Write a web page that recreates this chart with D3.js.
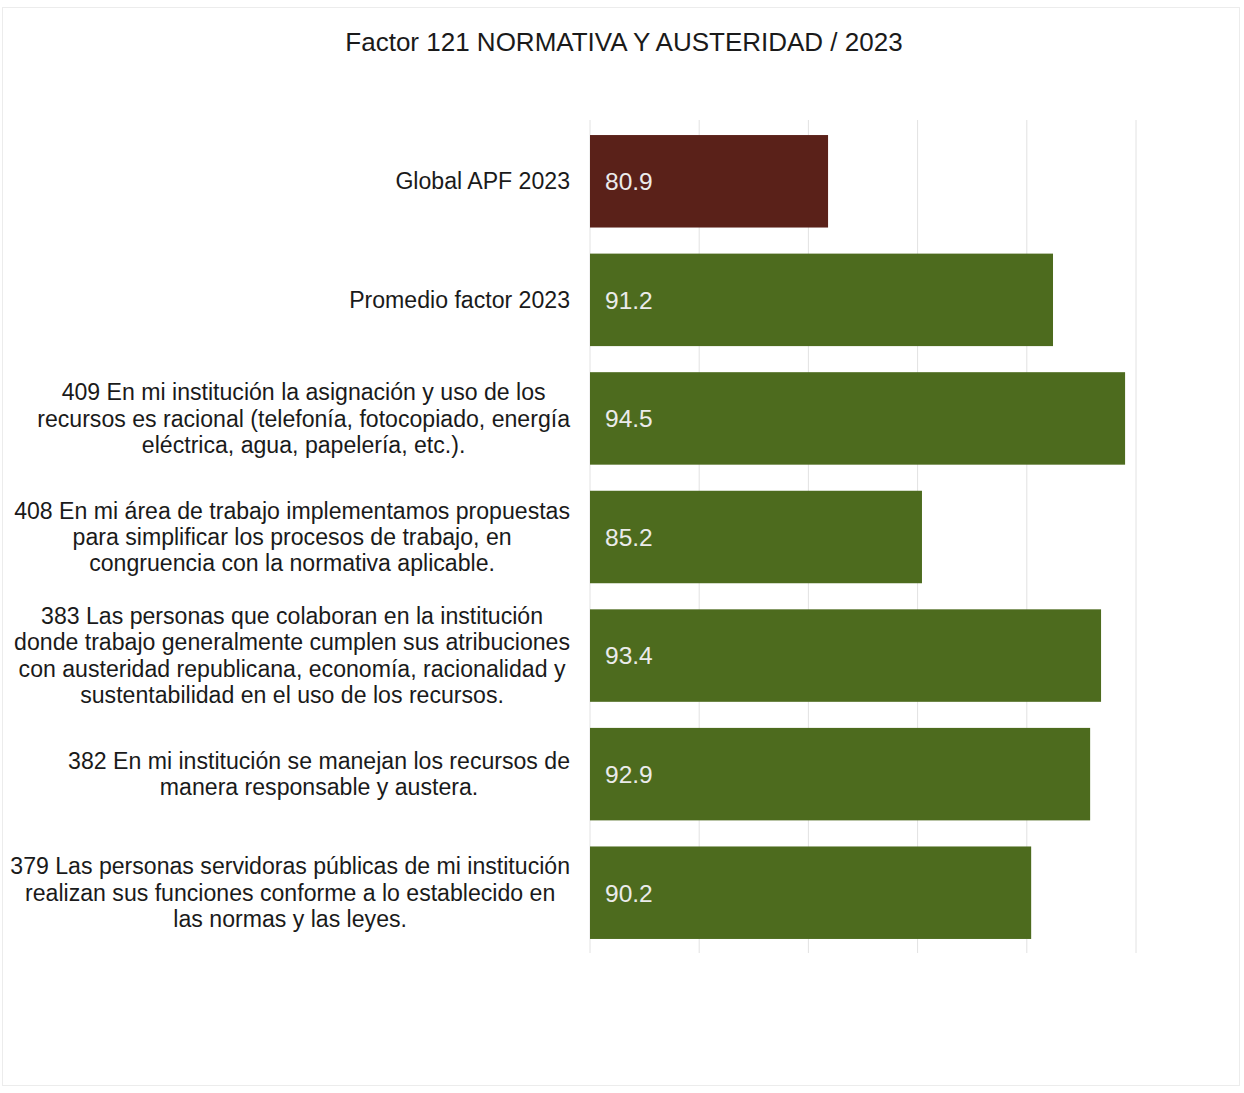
<!DOCTYPE html>
<html lang="es">
<head>
<meta charset="utf-8">
<script src="https://cdn.jsdelivr.net/npm/d3@7"></script>
<style>
  html, body { margin: 0; padding: 0; background: #fff; }
  svg { display: block; }
  text { font-family: "Liberation Sans", Arial, sans-serif; }
</style>
</head>
<body>
<svg id="chart" width="1244" height="1093"></svg>
<script>
// Category labels (pre-wrapped lines), top to bottom
const categories = [
  ["Global APF 2023"],
  ["Promedio factor 2023"],
  ["409 En mi institución la asignación y uso de los",
   "recursos es racional (telefonía, fotocopiado, energía",
   "eléctrica, agua, papelería, etc.)."],
  ["408 En mi área de trabajo implementamos propuestas",
   "para simplificar los procesos de trabajo, en",
   "congruencia con la normativa aplicable."],
  ["383 Las personas que colaboran en la institución",
   "donde trabajo generalmente cumplen sus atribuciones",
   "con austeridad republicana, economía, racionalidad y",
   "sustentabilidad en el uso de los recursos."],
  ["382 En mi institución se manejan los recursos de",
   "manera responsable y austera."],
  ["379 Las personas servidoras públicas de mi institución",
   "realizan sus funciones conforme a lo establecido en",
   "las normas y las leyes."]
];
const values = [80.9, 91.2, 94.5, 85.2, 93.4, 92.9, 90.2];
const gridTicks = [70, 75, 80, 85, 90, 95];
const title = "Factor 121 NORMATIVA Y AUSTERIDAD / 2023";

const svg = d3.select("#chart");

// faint frame around the chart area
svg.append("rect")
  .attr("x", 2.5).attr("y", 7.5).attr("width", 1237).attr("height", 1078)
  .attr("fill", "none").attr("stroke", "#ececec").attr("stroke-width", 1);

const x = d3.scaleLinear().domain([70, 95]).range([590, 1136]);
const y = d3.scaleBand()
  .domain(d3.range(categories.length))
  .range([122, 952])
  .paddingInner(0.22)
  .paddingOuter(0.11);

// vertical gridlines
svg.append("g")
  .selectAll("line")
  .data(gridTicks)
  .join("line")
  .attr("x1", d => x(d)).attr("x2", d => x(d))
  .attr("y1", 120).attr("y2", 953)
  .attr("stroke", "#e2e2e2").attr("stroke-width", 1);

// bars
svg.append("g")
  .selectAll("rect")
  .data(values)
  .join("rect")
  .attr("x", x(70))
  .attr("y", (d, i) => y(i))
  .attr("width", d => x(d) - x(70))
  .attr("height", y.bandwidth())
  .attr("fill", (d, i) => i === 0 ? "#5a2119" : "#4d6b1e");

// value labels inside bars
svg.append("g")
  .selectAll("text")
  .data(values)
  .join("text")
  .attr("x", x(70) + 15)
  .attr("y", (d, i) => y(i) + y.bandwidth() / 2)
  .attr("dy", "0.36em")
  .attr("font-size", 24.5)
  .attr("fill", "#ebebeb")
  .text(d => d.toFixed(1));

// category labels: block right-aligned to the bars, lines centred within block
const lineH = 26.4;
const labelRight = 570;
const labelG = svg.append("g").attr("font-size", 23.1).attr("fill", "#1a1a1a");
categories.forEach((lines, i) => {
  const g = labelG.append("g");
  const cy = y(i) + y.bandwidth() / 2;
  const top = cy - (lines.length - 1) * lineH / 2;
  const texts = g.selectAll("text")
    .data(lines)
    .join("text")
    .attr("y", (d, j) => top + j * lineH)
    .attr("dy", "0.35em")
    .text(d => d);
  let maxW = 0;
  texts.each(function () { maxW = Math.max(maxW, this.getComputedTextLength()); });
  texts.attr("x", labelRight - maxW / 2).attr("text-anchor", "middle");
});

// title
svg.append("text")
  .attr("x", 624)
  .attr("y", 42)
  .attr("dy", "0.35em")
  .attr("text-anchor", "middle")
  .attr("font-size", 26)
  .attr("fill", "#1a1a1a")
  .text(title);
</script>
</body>
</html>
